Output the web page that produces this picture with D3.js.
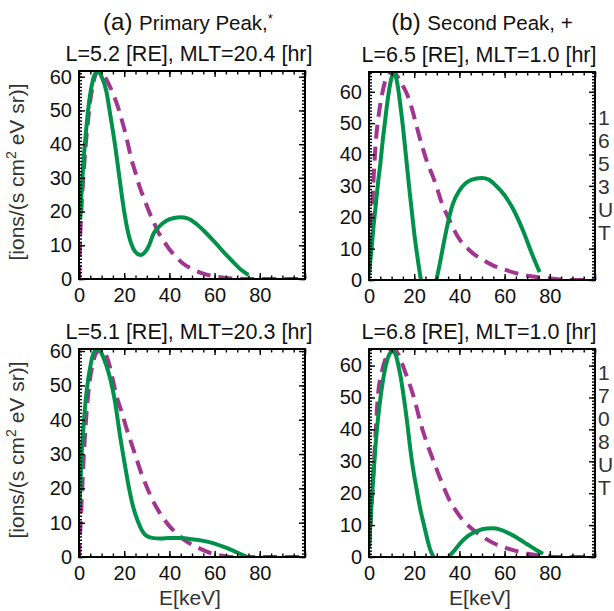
<!DOCTYPE html>
<html>
<head>
<meta charset="utf-8">
<script src="https://cdn.jsdelivr.net/npm/d3@7"></script>
<style>
  body { margin: 0; background: #fff; }
  svg { font-family: "Liberation Sans", Arial, sans-serif; }
</style>
</head>
<body>
<div id="chart"></div>
<script>
// [E keV, flux], solid = model, dashed = fit
const solidA = [[0.6,18],[1,24],[2,35],[3,43],[4,50],[5,55],[6,58.5],[7,60.7],[8.5,61.7],[10,60],[12,56],[14,48],[16,39.5],[18,29.5],[20,20],[22,13],[24,9],[26,7.4],[27.5,7.1],[29,7.8],[31,10],[33,13.5],[35,15.2],[38,17],[42,18.1],[45,18.3],[48,18],[52,16.3],[56,13.8],[60,11],[64,8],[68,5.2],[72,2.6],[75,1.2]];
const dashA = [[0,0],[0.5,12],[1,20],[2,31],[3,40],[4,47],[5,53],[6,57],[7,60],[8,61.3],[9.3,61.7],[11,60.5],[13,58],[15,55],[17,51.5],[19,47],[21,42],[23,36],[25,31.5],[27,27],[29,23.5],[31,20],[33,17],[35,14],[37,11.8],[40,8.8],[43,6.5],[46,4.6],[50,3],[55,1.6],[60,0.8],[65,0.3],[70,0.1],[75,0],[100,0]];

const solidB = [[0,2],[1,9],[2,17],[3,24],[4,31],[5,37],[6,44],[7,50],[8,56],[9,61],[10,64.5],[11,65.8],[12,64.5],[13,60.5],[14,55],[15,49],[16,42],[17,35],[18,28],[19,21.5],[20,15],[21,9.5],[22,4.5],[23,0],[25,-6],[27,-6],[29.8,0],[31,4],[33,11.5],[35,18.5],[37,24],[40,28.5],[43,31],[47,32.3],[50,32.5],[53,32],[56,30.2],[60,27],[64,22.3],[68,16],[72,8.5],[75.5,2.5]];
const dashB = [[0,3],[1,16],[2,32],[3,44],[4,51],[5,56],[6,60],[7,63],[8,64.8],[9,65.8],[10.5,66.3],[12,65.5],[14,63],[16,60.5],[18,57],[20,52],[22,46.5],[24,41.5],[26,37],[28,33.5],[30,29.5],[32,25],[34,21.5],[36,18.5],[38,15.5],[40,13],[43,10.5],[46,8.5],[50,6.6],[55,4.6],[60,3.3],[65,2.2],[70,1.4],[75,0.9],[80,0.5],[85,0.2],[90,0],[100,0]];

const solidC = [[0.3,15],[1,28],[2,38],[3,46],[4,51.5],[5,55.5],[6,58.5],[7,60],[8,60.6],[9,60.3],[10,59.3],[12,56],[14,51.5],[16,45],[18,36],[20,28],[22,20.5],[24,14.5],[26,10.5],[28,7.6],[30,6.1],[33,5.5],[36,5.4],[40,5.5],[45,5.5],[50,5.2],[55,4.7],[60,3.9],[65,2.7],[70,1.3],[74.5,0]];
const dashC = [[0,0],[1,14],[2,28],[3,39],[4,47],[5,52.5],[6,56],[7,58.5],[8,59.8],[9.5,60.6],[11,60],[13,57],[15,51.5],[17,46],[19,42],[21,37.5],[23,33.5],[25,29.5],[27,25.5],[30,20.4],[33,16],[36,12.6],[40,9],[43,7],[47,4.8],[50,3.6],[54,2.3],[58,1.2],[62,0.5],[66,0.1],[70,0],[100,0]];

const solidD = [[0,3],[1,15],[2,26],[3,36],[4,43.5],[5,49.5],[6,54.5],[7,58.5],[8,61.5],[9,63.5],[10.5,64.5],[12,63],[13,60],[14,56.5],[15,52],[16,47],[17,41.5],[18,35.5],[19,30],[20,25.5],[21,21.5],[22,17.5],[23,14],[24,11],[25,8],[26,5],[27,2.5],[28.5,0],[31,-5],[33,-5],[35.5,0],[38,2.2],[41,4.8],[44,6.7],[48,8.2],[52,8.9],[55,9],[58,8.6],[62,7.4],[66,5.8],[70,4],[74,2.2],[77,1]];
const dashD = [[0,3],[1,14],[2,27],[3,40],[4,51],[5,56],[6,59],[7,61.5],[8,63.3],[9.5,64.7],[11,65.2],[13,63.5],[15,60],[17,56],[19,52],[21,47],[23,41.5],[25,37],[27,33],[29,29.3],[31,25.5],[33,22],[35.5,18],[38,15],[41,12],[44,9.8],[47,8],[50,6.5],[55,4.4],[60,3],[65,1.9],[70,1],[75,0.5],[80,0.1],[85,0],[100,0]];

const subtitles = ['L=5.2 [RE], MLT=20.4 [hr]', 'L=6.5 [RE], MLT=1.0 [hr]', 'L=5.1 [RE], MLT=20.3 [hr]', 'L=6.8 [RE], MLT=1.0 [hr]'];
const xTicks = [0, 20, 40, 60, 80];
const sideTextTop = ['1', '6', '5', '3', 'U', 'T'];
const sideTextBottom = ['1', '7', '0', '8', 'U', 'T'];

const green = '#00924a';
const purple = '#a2358f';

const panels = [
  { solid: solidA, dash: dashA, sub: subtitles[0], left: 79, top: 71, ylabel: true, xlabel: false },
  { solid: solidB, dash: dashB, sub: subtitles[1], left: 369, top: 72, ylabel: false, xlabel: false },
  { solid: solidC, dash: dashC, sub: subtitles[2], left: 79, top: 349, ylabel: true, xlabel: true },
  { solid: solidD, dash: dashD, sub: subtitles[3], left: 369, top: 349, ylabel: false, xlabel: true }
];
const pw = 226, ph = 208;

const $svg = d3.select('#chart').append('svg')
  .attr('width', 614)
  .attr('height', 611);

// column titles
const titles = [
  { x: 188, tag: '(a)', text: 'Primary Peak,', mark: '*' },
  { x: 482, tag: '(b)', text: 'Second Peak, +', mark: '' }
];
titles.forEach(t => {
  const $t = $svg.append('text')
    .attr('x', t.x)
    .attr('y', 30)
    .attr('text-anchor', 'middle')
    .style('fill', '#111');
  $t.append('tspan').style('font-size', '24px').text(t.tag + ' ');
  $t.append('tspan').style('font-size', '20.5px').text(t.text);
  if (t.mark) {
    $t.append('tspan').style('font-size', '13px').attr('dy', -7).text(t.mark);
  }
});

panels.forEach((p, i) => {
  const yMax = d3.max(p.solid.concat(p.dash), d => d[1]);

  const xScale = d3.scaleLinear().domain([0, 100]).range([0, pw]);
  const yScale = d3.scaleLinear().domain([0, yMax]).range([ph, 0]);

  const $g = $svg.append('g')
    .attr('transform', `translate(${p.left}, ${p.top})`);

  $g.append('clipPath')
    .attr('id', 'clip' + i)
    .append('rect')
    .attr('width', pw)
    .attr('height', ph);

  const line = d3.line()
    .x(d => xScale(d[0]))
    .y(d => yScale(d[1]))
    .curve(d3.curveMonotoneX);

  const $plot = $g.append('g').attr('clip-path', `url(#clip${i})`);

  $plot.append('path')
    .datum(p.dash)
    .attr('d', line)
    .attr('fill', 'none')
    .attr('stroke', purple)
    .attr('stroke-width', 4)
    .attr('stroke-dasharray', '14,8');

  $plot.append('path')
    .datum(p.solid)
    .attr('d', line)
    .attr('fill', 'none')
    .attr('stroke', green)
    .attr('stroke-width', 4);

  // inward ticks on all four sides
  const yMajor = d3.range(0, yMax, 10);
  const yMinor = d3.range(0, yMax, 1);
  const xMinor = d3.range(0, 101, 5);

  const axes = [
    d3.axisBottom(xScale).tickValues(xTicks.concat([100])).tickSize(-6).tickPadding(9).tickFormat(d => d === 100 ? '' : d),
    d3.axisBottom(xScale).tickValues(xMinor).tickSize(-3.5).tickFormat(''),
    d3.axisTop(xScale).tickValues(xTicks.concat([100])).tickSize(-6).tickFormat(''),
    d3.axisTop(xScale).tickValues(xMinor).tickSize(-3.5).tickFormat(''),
    d3.axisLeft(yScale).tickValues(yMajor).tickSize(-6).tickPadding(7),
    d3.axisLeft(yScale).tickValues(yMinor).tickSize(-3).tickFormat(''),
    d3.axisRight(yScale).tickValues(yMajor).tickSize(-6).tickFormat(''),
    d3.axisRight(yScale).tickValues(yMinor).tickSize(-3).tickFormat('')
  ];
  const shifts = ['0,' + ph, '0,' + ph, '0,0', '0,0', '0,0', '0,0', pw + ',0', pw + ',0'];

  axes.forEach((ax, k) => {
    const $a = $g.append('g')
      .attr('transform', `translate(${shifts[k]})`)
      .call(ax);
    $a.select('.domain').remove();
    $a.selectAll('line').attr('stroke', '#000').attr('stroke-width', 1.4);
    $a.selectAll('text')
      .style('font-family', '"Liberation Sans", Arial, sans-serif')
      .style('font-size', '20px')
      .style('fill', '#111');
  });

  $g.append('rect')
    .attr('width', pw)
    .attr('height', ph)
    .attr('fill', 'none')
    .attr('stroke', '#000')
    .attr('stroke-width', 2);

  $g.append('text')
    .attr('x', pw / 2 - 3)
    .attr('y', -10)
    .attr('text-anchor', 'middle')
    .style('font-size', '21.5px')
    .style('fill', '#111')
    .text(p.sub);

  if (p.ylabel) {
    const $yl = $g.append('text')
      .attr('transform', `translate(${-55}, ${ph / 2 - 3}) rotate(-90)`)
      .attr('text-anchor', 'middle')
      .style('font-size', '21px')
      .style('fill', '#333');
    $yl.append('tspan').text('[ions/(s cm');
    $yl.append('tspan').attr('dy', -8).style('font-size', '14px').text('2');
    $yl.append('tspan').attr('dy', 8).text(' eV sr)]');
  }

  if (p.xlabel) {
    $g.append('text')
      .attr('x', pw / 2 - 2)
      .attr('y', ph + 48)
      .attr('text-anchor', 'middle')
      .style('font-size', '21px')
      .style('fill', '#333')
      .text('E[keV]');
  }
});

// partly visible text on the right margin
[[sideTextTop, 125], [sideTextBottom, 380]].forEach(([list, y0]) => {
  $svg.append('g')
    .selectAll('text')
    .data(list)
    .enter()
    .append('text')
    .attr('x', 598)
    .attr('y', (d, j) => y0 + j * 23)
    .style('font-size', '21px')
    .style('fill', '#333')
    .text(d => d);
});
</script>
</body>
</html>
